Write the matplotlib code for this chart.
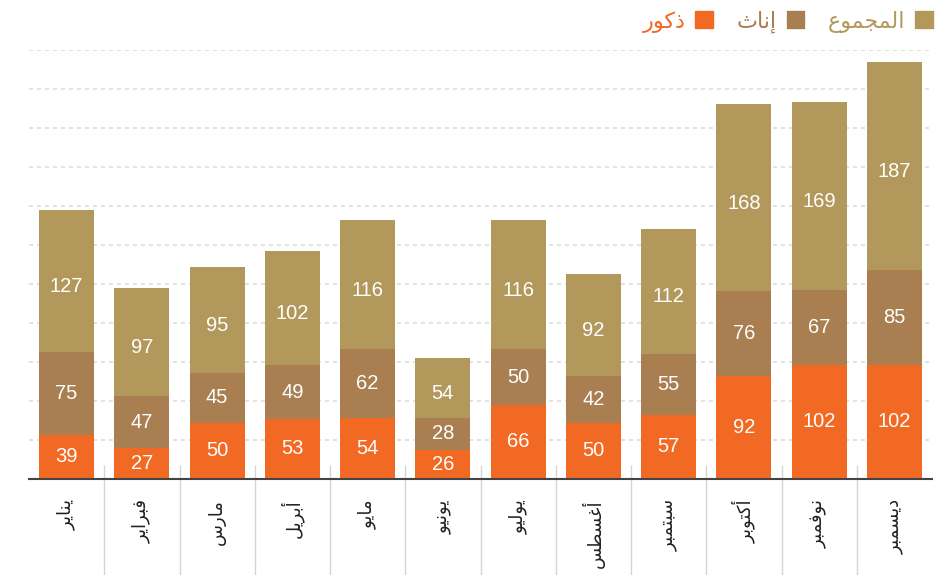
import numpy as np
import matplotlib
matplotlib.use('Agg')
import matplotlib.pyplot as plt
from matplotlib.patches import Patch

months = ['يناير', 'فبراير', 'مارس', 'أبريل', 'مايو', 'يونيو',
          'يوليو', 'أغسطس', 'سبتمبر', 'أكتوبر', 'نوفمبر', 'ديسمبر']
males = [39, 27, 50, 53, 54, 26, 66, 50, 57, 92, 102, 102]
females = [75, 47, 45, 49, 62, 28, 50, 42, 55, 76, 67, 85]
totals = [127, 97, 95, 102, 116, 54, 116, 92, 112, 168, 169, 187]
series_names = ['ذكور', 'إناث', 'المجموع']
colors = ['#f26924', '#a97e50', '#b3985c']

# matplotlib does no arabic shaping: pick presentation forms by hand
# (isolated form code point, letter joins to the following letter)
FORMS = {
    'ا': (0xFE8D, False), 'أ': (0xFE83, False), 'إ': (0xFE87, False),
    'ب': (0xFE8F, True), 'ت': (0xFE95, True), 'ث': (0xFE99, True),
    'ج': (0xFE9D, True), 'د': (0xFEA9, False), 'ذ': (0xFEAB, False),
    'ر': (0xFEAD, False), 'س': (0xFEB1, True), 'ط': (0xFEC1, True),
    'ع': (0xFEC9, True), 'غ': (0xFECD, True), 'ف': (0xFED1, True),
    'ك': (0xFED9, True), 'ل': (0xFEDD, True), 'م': (0xFEE1, True),
    'ن': (0xFEE5, True), 'و': (0xFEED, False), 'ي': (0xFEF1, True),
}


def shape(word):
    out = []
    for i, ch in enumerate(word):
        if ch not in FORMS:
            out.append(ch)
            continue
        base, dual = FORMS[ch]
        prev = i > 0 and word[i - 1] in FORMS and FORMS[word[i - 1]][1]
        nxt = dual and i < len(word) - 1 and word[i + 1] in FORMS
        if prev and nxt:
            off = 3
        elif prev:
            off = 1
        elif nxt:
            off = 2
        else:
            off = 0
        out.append(chr(base + off))
    return ''.join(reversed(out))


fig = plt.figure(figsize=(9.48, 5.75), dpi=100)
ax = fig.add_axes([29 / 948, 1 - 478.5 / 575, (932 - 29) / 948, (478.5 - 49.8) / 575])

x = np.arange(len(months))
bottom = np.zeros(len(months))
for k, (vals, c) in enumerate(zip([males, females, totals], colors)):
    ax.bar(x, vals, 0.73, bottom=bottom, color=c, zorder=2)
    # labels of the top segment sit a little below the middle in the original
    dy = -4 if k == 2 else 0
    for xi, b, v in zip(x, bottom, vals):
        ax.annotate(str(v), (xi, b + v / 2), xytext=(0, dy), textcoords='offset points',
                    ha='center', va='center', color='white', fontsize=14.5,
                    family='Liberation Sans', zorder=4)
    bottom += vals

ax.set_xlim(-0.5, len(months) - 0.5)
ax.set_ylim(0, 385)
ax.set_yticks(np.arange(35, 386, 35))
ax.yaxis.grid(True, color='#dddddd', linestyle=(0, (2.4, 2.4)), lw=1.2)
ax.set_axisbelow(True)
ax.tick_params(axis='y', length=0, labelleft=False)

ax.set_xticks(x, [shape(m) for m in months], rotation=90, fontsize=13,
              family='DejaVu Sans', color='#222222')
ax.tick_params(axis='x', length=0, pad=15)

for s in ['top', 'left', 'right']:
    ax.spines[s].set_visible(False)
ax.spines['bottom'].set_color('#444444')
ax.spines['bottom'].set_linewidth(1.5)
ax.spines['bottom'].set_zorder(3)

# separators between month labels
ax.vlines(x[:-1] + 0.5, -0.25, 0.032, transform=ax.get_xaxis_transform(),
          colors='#d5d5d5', lw=1, clip_on=False)

handles = [Patch(color=c) for c in colors]
ax.legend(handles, [shape(n) for n in series_names], ncol=3, loc='center right',
          bbox_to_anchor=(933 / 948, 1 - 22 / 575), bbox_transform=fig.transFigure,
          frameon=False, markerfirst=False, handlelength=0.8, handleheight=0.8,
          handletextpad=0.45, columnspacing=1.05, borderaxespad=0, borderpad=0,
          labelcolor=colors, prop={'family': 'DejaVu Sans', 'size': 16})

fig.savefig('out.png', dpi=100)
